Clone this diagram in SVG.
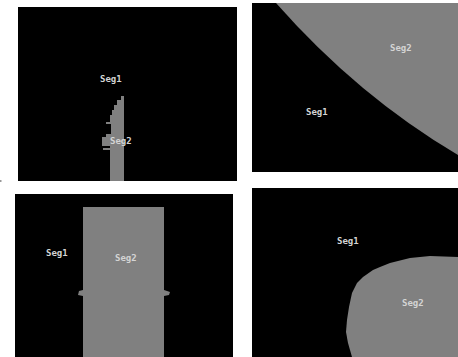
<svg xmlns="http://www.w3.org/2000/svg" width="458" height="357" viewBox="0 0 458 357">
<style>
.bg{fill:#000}
.seg{fill:#808080}
.lbl{font-family:"DejaVu Sans Mono","Liberation Mono",monospace;font-size:9px;font-weight:bold;fill:#d4d4d4}
</style>
<rect width="458" height="357" fill="#fff"/>
<g id="panel1">
<rect class="bg" x="18" y="7" width="219" height="174"/>
<path class="seg" d="M121,96 H124 V181 H110 V150 H103 V148 H110 V146 H102 V137 H106 V134 H111 V124 H106 V122 H110 V115 H112 V110 H114 V105 H117 V100 H121 Z"/>
<text class="lbl" x="100" y="82">Seg1</text>
<text class="lbl" x="110" y="144">Seg2</text>
</g>
<g id="panel2">
<rect class="bg" x="252" y="3" width="206" height="169"/>
<path class="seg" d="M276,3 Q358,96 458,155 V3 Z"/>
<text class="lbl" x="390" y="51">Seg2</text>
<text class="lbl" x="306" y="115">Seg1</text>
</g>
<g id="panel3">
<rect class="bg" x="15" y="194" width="218" height="163"/>
<path class="seg" d="M83,207 H164 V290 L170,292 L169,295 L164,296 V357 H83 V296 L78,295 L79,291 L83,290 Z"/>
<text class="lbl" x="46" y="256">Seg1</text>
<text class="lbl" x="115" y="261">Seg2</text>
</g>
<g id="panel4">
<rect class="bg" x="252" y="188" width="206" height="169"/>
<path class="seg" d="M458,257 L430,256 L410,258 L390,263 L380,267 L373,270 L363,277 L357,283 L352,293 L349,307 L347,320 L346,332 L348,343 L352,357 H458 Z"/>
<text class="lbl" x="337" y="244">Seg1</text>
<text class="lbl" x="402" y="306">Seg2</text>
</g>
<rect x="0" y="180" width="1.5" height="2" fill="#999"/>
</svg>
